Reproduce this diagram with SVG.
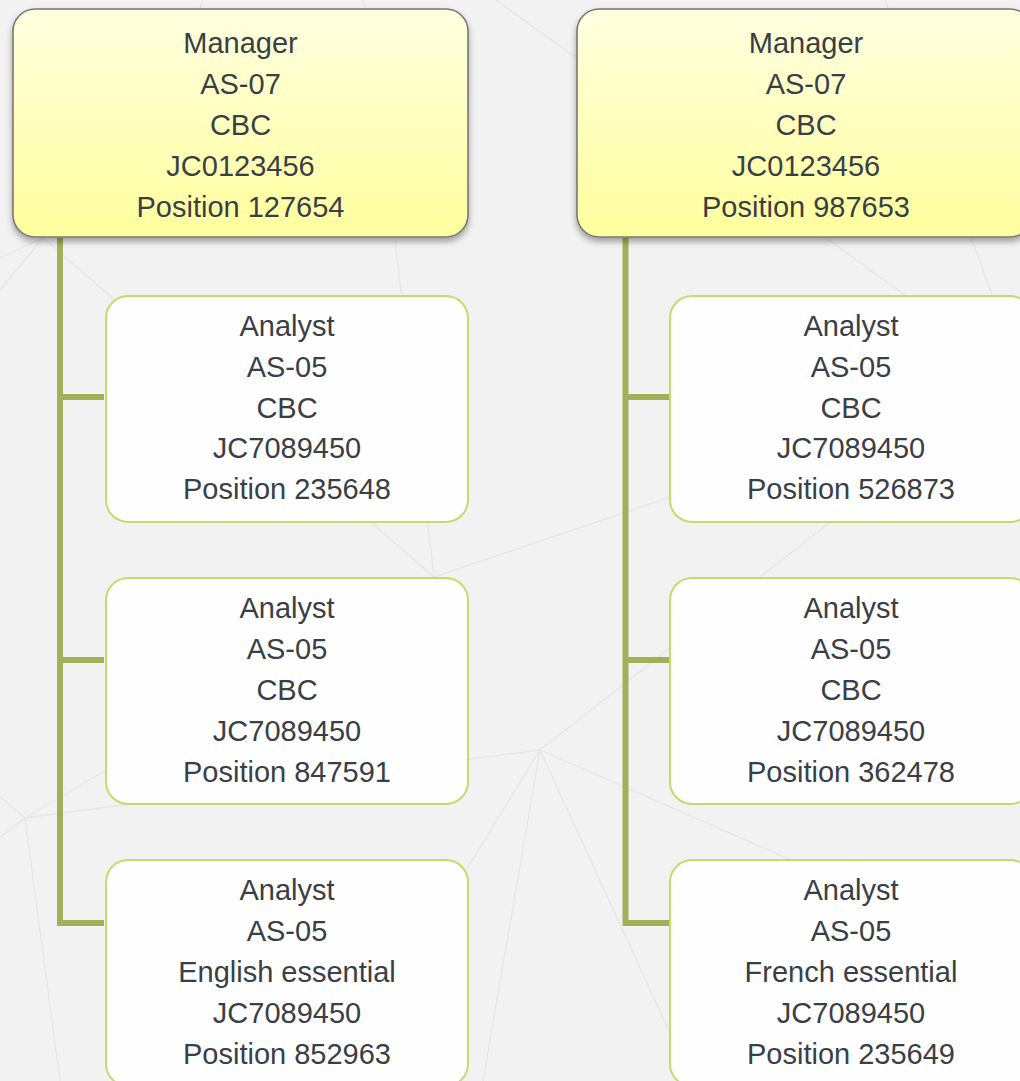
<svg xmlns="http://www.w3.org/2000/svg" width="1020" height="1081" viewBox="0 0 1020 1081">
<defs>
<linearGradient id="mgrGrad" x1="0" y1="0" x2="0" y2="1">
<stop offset="0" stop-color="#ffffe0"/>
<stop offset="1" stop-color="#ffff9e"/>
</linearGradient>
<filter id="shadow" x="-5%" y="-5%" width="110%" height="120%">
<feDropShadow dx="0" dy="4" stdDeviation="3" flood-color="#000" flood-opacity="0.35"/>
</filter>
<style>
.bgl{stroke:#e4e6e7;stroke-width:1.3;fill:none}
.mgr{fill:url(#mgrGrad);stroke:#777777;stroke-width:1.6;filter:url(#shadow)}
.ana{fill:#ffffff;fill-opacity:0.93;stroke:#c9d96b;stroke-width:2}
.conn{stroke:#a3b05a;stroke-width:6;fill:none}
text{font-family:"Liberation Sans",Arial,sans-serif;font-size:29px;fill:#3a3f46;text-anchor:middle}
</style>
</defs>
<rect width="1020" height="1081" fill="#f2f2f2"/>
<g id="background">
<line class="bgl" x1="43" y1="238" x2="434" y2="577"/>
<line class="bgl" x1="43" y1="238" x2="0" y2="290"/>
<line class="bgl" x1="43" y1="238" x2="0" y2="258"/>
<line class="bgl" x1="434" y1="577" x2="395" y2="240"/>
<line class="bgl" x1="434" y1="577" x2="700" y2="487"/>
<line class="bgl" x1="434" y1="577" x2="25" y2="818"/>
<line class="bgl" x1="25" y1="818" x2="540" y2="750"/>
<line class="bgl" x1="25" y1="818" x2="0" y2="797"/>
<line class="bgl" x1="25" y1="818" x2="0" y2="837"/>
<line class="bgl" x1="25" y1="818" x2="60" y2="1081"/>
<line class="bgl" x1="540" y1="750" x2="336" y2="1081"/>
<line class="bgl" x1="540" y1="750" x2="483" y2="1081"/>
<line class="bgl" x1="540" y1="750" x2="692" y2="1081"/>
<line class="bgl" x1="540" y1="750" x2="1020" y2="960"/>
<line class="bgl" x1="540" y1="750" x2="1020" y2="373"/>
<line class="bgl" x1="496" y1="0" x2="1020" y2="378"/>
<line class="bgl" x1="885" y1="0" x2="1020" y2="372"/>
<line class="bgl" x1="203" y1="0" x2="190" y2="40"/>
<line class="bgl" x1="363" y1="0" x2="370" y2="40"/>
</g>
<g id="connectors">
<path class="conn" d="M60 238 V923 H104 M60 397 H104 M60 660 H104"/>
<path class="conn" d="M625.5 238 V923 H670 M625.5 397 H670 M625.5 660 H670"/>
</g>
<g id="mgr1">
<rect class="mgr" x="13" y="9" width="455" height="228" rx="22"/>
<text x="240.5" y="53">Manager</text>
<text x="240.5" y="94">AS-07</text>
<text x="240.5" y="135">CBC</text>
<text x="240.5" y="176">JC0123456</text>
<text x="240.5" y="217">Position 127654</text>
</g>
<g id="mgr2">
<rect class="mgr" x="577" y="9" width="455" height="228" rx="22"/>
<text x="806" y="53">Manager</text>
<text x="806" y="94">AS-07</text>
<text x="806" y="135">CBC</text>
<text x="806" y="176">JC0123456</text>
<text x="806" y="217">Position 987653</text>
</g>
<g id="ana1">
<rect class="ana" x="106" y="296" width="362" height="226" rx="22"/>
<text x="287" y="336">Analyst</text>
<text x="287" y="377">AS-05</text>
<text x="287" y="417.5">CBC</text>
<text x="287" y="458">JC7089450</text>
<text x="287" y="499">Position 235648</text>
</g>
<g id="ana2">
<rect class="ana" x="106" y="578" width="362" height="226" rx="22"/>
<text x="287" y="618">Analyst</text>
<text x="287" y="659">AS-05</text>
<text x="287" y="700">CBC</text>
<text x="287" y="741">JC7089450</text>
<text x="287" y="782">Position 847591</text>
</g>
<g id="ana3">
<rect class="ana" x="106" y="860" width="362" height="226" rx="22"/>
<text x="287" y="900">Analyst</text>
<text x="287" y="941">AS-05</text>
<text x="287" y="982">English essential</text>
<text x="287" y="1023">JC7089450</text>
<text x="287" y="1064">Position 852963</text>
</g>
<g id="ana4">
<rect class="ana" x="670" y="296" width="362" height="226" rx="22"/>
<text x="851" y="336">Analyst</text>
<text x="851" y="377">AS-05</text>
<text x="851" y="417.5">CBC</text>
<text x="851" y="458">JC7089450</text>
<text x="851" y="499">Position 526873</text>
</g>
<g id="ana5">
<rect class="ana" x="670" y="578" width="362" height="226" rx="22"/>
<text x="851" y="618">Analyst</text>
<text x="851" y="659">AS-05</text>
<text x="851" y="700">CBC</text>
<text x="851" y="741">JC7089450</text>
<text x="851" y="782">Position 362478</text>
</g>
<g id="ana6">
<rect class="ana" x="670" y="860" width="362" height="226" rx="22"/>
<text x="851" y="900">Analyst</text>
<text x="851" y="941">AS-05</text>
<text x="851" y="982">French essential</text>
<text x="851" y="1023">JC7089450</text>
<text x="851" y="1064">Position 235649</text>
</g>
</svg>
